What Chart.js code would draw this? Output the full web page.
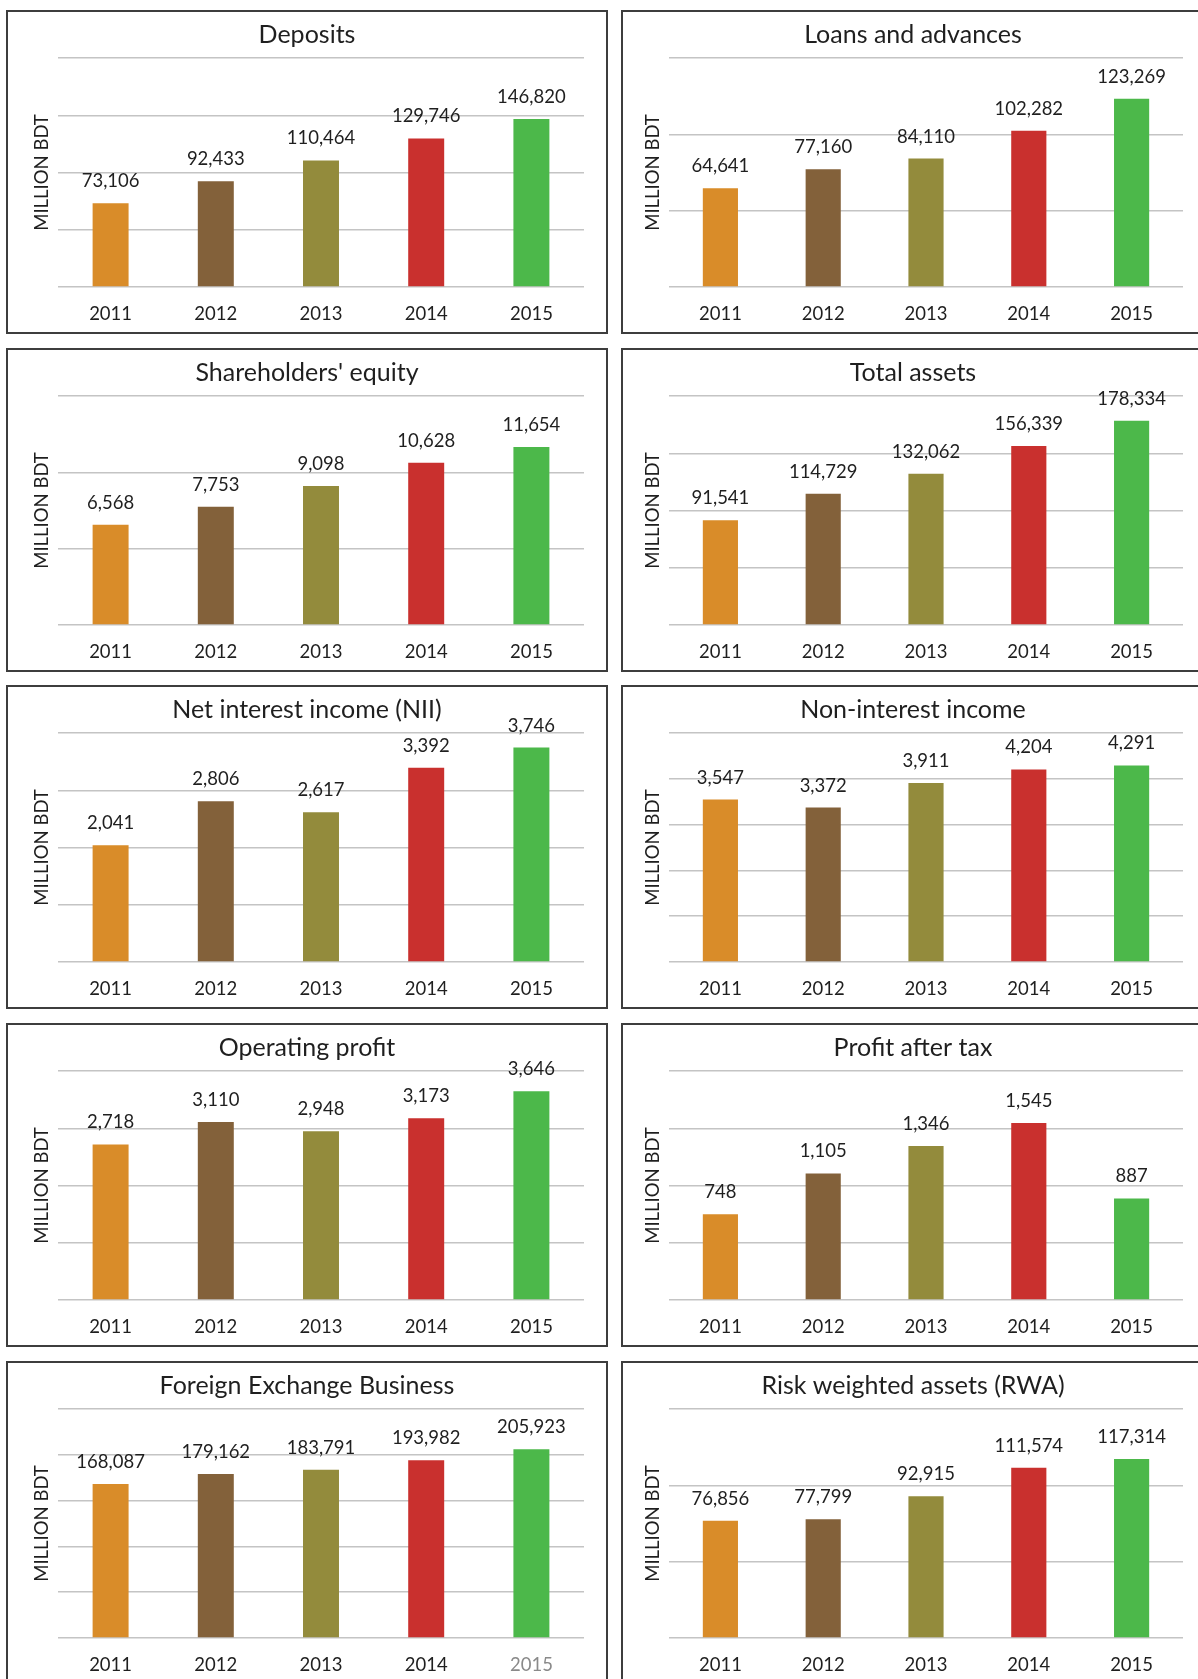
<!DOCTYPE html>
<html>
<head>
<meta charset="utf-8">
<title>Five-year financial highlights 2011–2015</title>
<script src="https://cdn.jsdelivr.net/npm/chart.js@4.4.1/dist/chart.umd.min.js"></script>
<style>
  html, body { margin: 0; padding: 0; background: #ffffff; }
  body { width: 1198px; height: 1679px; overflow: hidden; position: relative; }
  .panel { position: absolute; box-sizing: border-box; border: 2px solid #3d3d3d; background: #ffffff; }
  .panel canvas { display: block; }
</style>
</head>
<body>
<script>
// ---- data (million BDT) ----
const years = ['2011', '2012', '2013', '2014', '2015'];

const deposits            = [73106, 92433, 110464, 129746, 146820];
const loansAdvances       = [64641, 77160, 84110, 102282, 123269];
const shareholdersEquity  = [6568, 7753, 9098, 10628, 11654];
const totalAssets         = [91541, 114729, 132062, 156339, 178334];
const netInterestIncome   = [2041, 2806, 2617, 3392, 3746];
const nonInterestIncome   = [3547, 3372, 3911, 4204, 4291];
const operatingProfit     = [2718, 3110, 2948, 3173, 3646];
const profitAfterTax      = [748, 1105, 1346, 1545, 887];
const foreignExchange     = [168087, 179162, 183791, 193982, 205923];
const riskWeightedAssets  = [76856, 77799, 92915, 111574, 117314];

// value-axis ranges (max, gridline step)
const axisMax  = [200000, 150000, 15000, 200000, 4000, 5000, 4000, 2000, 250000, 150000];
const axisStep = [50000, 50000, 5000, 50000, 1000, 1000, 1000, 500, 50000, 50000];

const titles = ['Deposits', 'Loans and advances', "Shareholders' equity", 'Total assets',
  'Net interest income (NII)', 'Non-interest income', 'Operating profit', 'Profit after tax',
  'Foreign Exchange Business', 'Risk weighted assets (RWA)'];
const series = [deposits, loansAdvances, shareholdersEquity, totalAssets, netInterestIncome,
  nonInterestIncome, operatingProfit, profitAfterTax, foreignExchange, riskWeightedAssets];

const yearColors = ['#d98c29', '#83613a', '#938b3c', '#c9302e', '#4cb84a'];

// ---- look & layout ----
const FONT = 'Lato, "Open Sans", sans-serif';
const TEXT = '#1f1f1f';
const LABEL_SIZE = 18.5;
const TITLE_SIZE = 25;
const rowTops = [10, 348, 685, 1023, 1361];
const panelHeight = 324;
const columns = [
  { left: 6,   width: 602, axisWidth: 50, rightGap: 22, axisTitlePad: 22.6 },
  { left: 621, width: 584, axisWidth: 46, rightGap: 20, axisTitlePad: 19.3 }
];

Chart.defaults.font.family = FONT;
Chart.defaults.color = TEXT;

// numbers printed above each bar
const valueLabels = {
  id: 'valueLabels',
  afterDatasetsDraw(chart) {
    const ctx = chart.ctx;
    const values = chart.data.datasets[0].data;
    ctx.save();
    ctx.font = LABEL_SIZE + 'px ' + FONT;
    ctx.fillStyle = TEXT;
    ctx.textAlign = 'center';
    ctx.textBaseline = 'middle';
    chart.getDatasetMeta(0).data.forEach((bar, i) => {
      ctx.fillText(values[i].toLocaleString('en-US'), bar.x, bar.y - 22);
    });
    ctx.restore();
  }
};

series.forEach((values, i) => {
  const col = columns[i % 2];
  const top = rowTops[Math.floor(i / 2)];
  const innerW = col.width - 4, innerH = panelHeight - 4;

  const panel = document.createElement('div');
  panel.className = 'panel';
  panel.style.left = col.left + 'px';
  panel.style.top = top + 'px';
  panel.style.width = col.width + 'px';
  panel.style.height = panelHeight + 'px';
  const canvas = document.createElement('canvas');
  canvas.width = innerW;
  canvas.height = innerH;
  panel.appendChild(canvas);
  document.body.appendChild(panel);

  const isFx = titles[i] === 'Foreign Exchange Business';

  new Chart(canvas, {
    type: 'bar',
    data: {
      labels: years,
      datasets: [{
        data: values,
        backgroundColor: yearColors,
        borderWidth: 0,
        barPercentage: 0.342,
        categoryPercentage: 1
      }]
    },
    plugins: [valueLabels],
    options: {
      responsive: false,
      animation: false,
      events: [],
      layout: { padding: 0 },
      plugins: {
        legend: { display: false },
        tooltip: { enabled: false },
        title: {
          display: true,
          text: titles[i],
          color: TEXT,
          font: { size: TITLE_SIZE, weight: 'normal', lineHeight: 1.2 },
          padding: { top: 7.5, bottom: 8.5 }
        }
      },
      scales: {
        x: {
          grid: { display: false, drawTicks: false },
          border: { display: false },
          ticks: {
            padding: 16.3,
            font: { size: LABEL_SIZE, lineHeight: 1.2 },
            color: (c) => (isFx && c.index === 4) ? '#8a8a8a' : TEXT
          },
          afterFit: (s) => { s.height = 45; }
        },
        y: {
          min: 0,
          max: axisMax[i],
          ticks: { display: false, stepSize: axisStep[i] },
          grid: { color: '#c4c4c4', lineWidth: 1.5, drawTicks: false },
          border: { display: false },
          title: {
            display: true,
            text: 'MILLION BDT',
            color: TEXT,
            font: { size: LABEL_SIZE, lineHeight: 1.2 },
            padding: { top: col.axisTitlePad, bottom: 0 }
          },
          afterFit: (s) => { s.width = col.axisWidth; }
        },
        gap: {
          position: 'right',
          display: true,
          grid: { display: false, drawTicks: false },
          border: { display: false },
          ticks: { display: false },
          afterFit: (s) => { s.width = col.rightGap; }
        }
      }
    }
  });
});
</script>
</body>
</html>
